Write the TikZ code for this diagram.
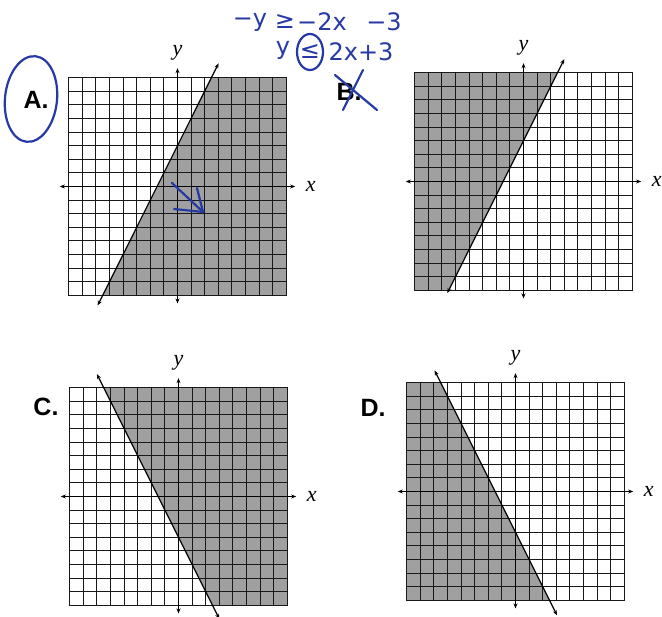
\documentclass[tikz,border=0pt]{standalone}
\usepackage{fontspec}
\setmainfont{Liberation Serif}
\newfontfamily\labfont{Liberation Sans}
\newfontfamily\handfont{DejaVu Sans}
\usetikzlibrary{arrows.meta}
\definecolor{ink}{RGB}{38,58,165}
\definecolor{shadegray}{RGB}{160,160,160}
\tikzset{
 gridline/.style={draw=black!90, line width=1.05pt},
 frame/.style={draw=black!90, line width=1.2pt},
 axis/.style={draw=black, line width=1.2pt, {Stealth[length=5pt,width=4pt]}-{Stealth[length=5pt,width=4pt]}},
 bline/.style={draw=black, line width=1.2pt, {Stealth[length=5pt,width=4pt]}-{Stealth[length=5pt,width=4pt]}},
 shadefill/.style={fill=shadegray},
 axlabel/.style={font=\fontsize{22}{22}\selectfont\itshape, inner sep=0pt},
 optlabel/.style={font=\labfont\fontsize{25}{25}\selectfont\bfseries, inner sep=0pt},
 hand/.style={font=\handfont\fontsize{24}{24}\selectfont, text=ink, inner sep=0pt},
 inkline/.style={draw=ink, line width=2.2pt, line cap=round, line join=round},
}
\newcommand\qpanel[6]{%
 \begin{scope}[shift={(#1,#2)},x=13.6pt,y=13.6pt]
  \begin{scope}
   \clip (-8,-8) rectangle (8,8);
   \fill[shadefill] #3;
  \end{scope}
  \draw[gridline] (-8,-8) grid[step=1] (8,8);
  \draw[frame] (-8,-8) rectangle (8,8);
  \coordinate (#6xl) at (-8.65,0);
  \coordinate (#6xr) at (8.65,0);
  \coordinate (#6yb) at (0,-8.6);
  \coordinate (#6yt) at (0,8.7);
  \draw[axis] (#6xl) -- (#6xr);
  \draw[axis] (#6yb) -- (#6yt);
  \coordinate (#6la) at (#4);
  \coordinate (#6lb) at (#5);
  \draw[bline] (#6la) -- (#6lb);
  \node[axlabel] (#6x) at (9.8,0) {x};
  \node[axlabel] (#6y) at (0,9.85) {y};
 \end{scope}}
\begin{document}
\begin{tikzpicture}[x=1pt,y=-1pt]
\fill[white] (0,0) rectangle (662,617);
\useasboundingbox (0,0) rectangle (662,617);

\qpanel{177.5}{186.5}{(-5.5,-8) -- (2.5,8) -- (8,8) -- (8,-8) -- cycle}{-5.875,-8.75}{3.02,9.05}{A}
\qpanel{523.5}{181.5}{(-8,-8) -- (-5.5,-8) -- (2.5,8) -- (-8,8) -- cycle}{-5.6,-8.2}{3.0,9.0}{B}
\qpanel{178.5}{496.5}{(-5.5,8) -- (8,8) -- (8,-8) -- (2.5,-8) -- cycle}{-6,9}{3,-9}{C}
\qpanel{515.5}{491.5}{(-8,8) -- (-5.5,8) -- (2.5,-8) -- (-8,-8) -- cycle}{-5.95,8.9}{3.05,-9.1}{D}

\node[optlabel] (labA) at (36,100) {A.};
\node[optlabel] (labB) at (349,92) {B.};
\node[optlabel] (labC) at (46,407) {C.};
\node[optlabel] (labD) at (373,408) {D.};

% handwriting
\node[hand] (h1) at (250,22) {−y};
\node[hand] (h2) at (285,22) {≥};
\node[hand] (h3) at (322,22) {−2x};
\node[hand] (h4) at (384,22) {−3};
\node[hand] (h5) at (283,50) {y};
\node[hand] (h6) at (310,52) {≤};
\node[hand] (h7) at (361,52) {2x+3};
\draw[inkline] (310,52) ellipse [x radius=13, y radius=18];

% circle around A
\draw[inkline, rotate around={-6:(31,99)}] (31,99) ellipse [x radius=26, y radius=43];
% cross over B
\draw[inkline] (335,75) -- (377,110);
\draw[inkline] (363,70) -- (343,110);
% arrow in A
\draw[inkline] (172,183) -- (203,212);
\draw[inkline] (174,209) -- (203,212) -- (197,188);
\end{tikzpicture}
\end{document}
